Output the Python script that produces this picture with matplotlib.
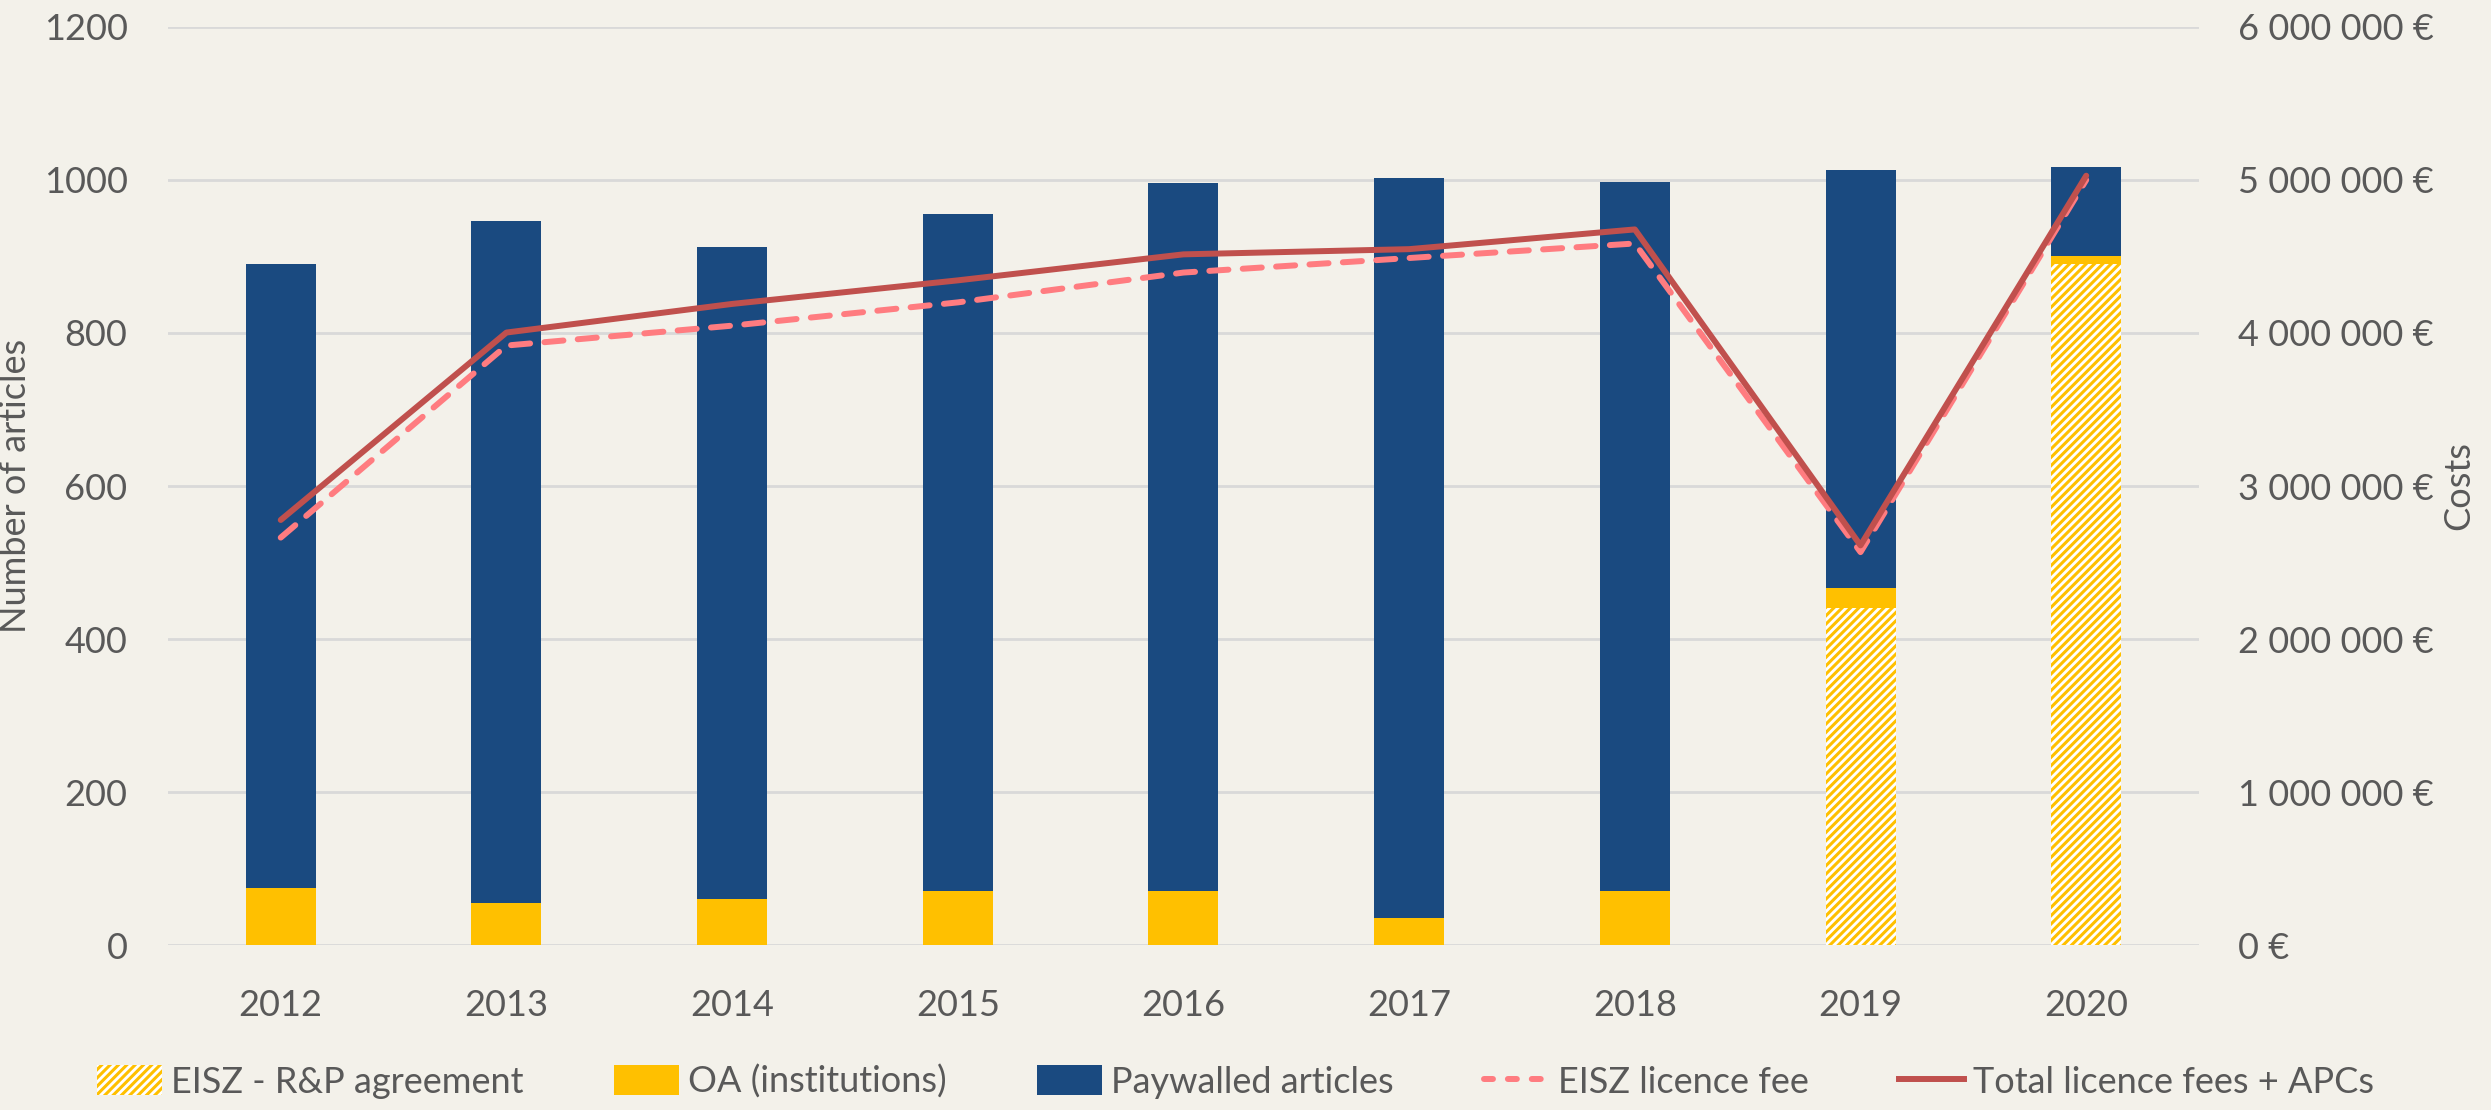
#!/usr/bin/env python
# coding: utf-8

# Script to plot article counts (bars) and licence costs (lines) per year

import matplotlib
matplotlib.use('Agg')

import matplotlib.pyplot as plt
import matplotlib.ticker as mticker
from matplotlib.patches import Patch
from matplotlib.lines import Line2D
import numpy as np

# --- data ---
years      = ['2012', '2013', '2014', '2015', '2016', '2017', '2018', '2019', '2020']
eisz_rp    = [0, 0, 0, 0, 0, 0, 0, 440, 890]          # EISZ - R&P agreement (articles)
oa_inst    = [75, 55, 60, 70, 70, 36, 70, 27, 11]      # OA (institutions)
paywalled  = [815, 892, 852, 886, 926, 967, 928, 546, 116]
licence_fee = [2663000, 3918000, 4048000, 4200000, 4395000, 4490000, 4585000, 2568000, 5000000]
total_cost  = [2778000, 4003000, 4190000, 4344000, 4514000, 4548000, 4677000, 2612000, 5028000]

# --- style ---
bg      = '#F3F1EA'
c_blue  = '#1A4A80'
c_yel   = '#FFC000'
c_tot   = '#C0504D'
c_fee   = '#FF7C80'
c_grid  = '#D9D9D9'
c_txt   = '#595959'
fsz     = 26
lwd     = 4.3
plt.rcParams['font.family'] = ['Lato', 'DejaVu Sans']
plt.rcParams['hatch.linewidth'] = 2.2

x = np.arange(len(years))
bw = 0.31

fig = plt.figure(figsize=(24.91, 11.10), dpi=100, facecolor=bg)
ax1 = fig.add_axes([0.0674, 0.1486, 0.8154, 0.8271])
ax1.set_facecolor(bg)
ax2 = ax1.twinx()

# --- stacked bars ---
base = np.zeros(len(years))
ax1.bar(x, eisz_rp, bw, bottom=base, color='white', edgecolor=c_yel, hatch='////', linewidth=0, zorder=2)
base = base + np.array(eisz_rp)
ax1.bar(x, oa_inst, bw, bottom=base, color=c_yel, linewidth=0, zorder=2)
base = base + np.array(oa_inst)
ax1.bar(x, paywalled, bw, bottom=base, color=c_blue, linewidth=0, zorder=2)

# --- cost lines on secondary axis ---
ax2.plot(x, licence_fee, color=c_fee, linewidth=lwd, linestyle=(0, (3.2, 2.4)), dash_capstyle='round', zorder=3)
ax2.plot(x, total_cost, color=c_tot, linewidth=lwd, solid_capstyle='round', zorder=4)

# --- axes details ---
ax1.set_xlim(-0.5, len(years) - 0.5)
ax1.set_ylim(0, 1200)
ax1.set_yticks(np.arange(0, 1201, 200))
ax1.set_xticks(x)
ax1.set_xticklabels(years)
ax1.yaxis.grid(True, color=c_grid, linewidth=2, zorder=0)
ax1.set_axisbelow(True)
ax1.tick_params(axis='both', length=0, labelsize=fsz, colors=c_txt)
ax1.tick_params(axis='y', pad=29)
ax1.tick_params(axis='x', pad=32)
ax1.set_ylabel('Number of articles', fontsize=fsz, color=c_txt)
ax1.yaxis.set_label_coords(-0.067, 0.5)

ax2.set_ylim(0, 6000000)
ax2.set_yticks(np.arange(0, 6000001, 1000000))
ax2.yaxis.set_major_formatter(mticker.FuncFormatter(lambda v, p: '{:,.0f} €'.format(v).replace(',', ' ')))
ax2.tick_params(axis='y', length=0, labelsize=fsz, colors=c_txt, pad=28)
ax2.set_ylabel('Costs', fontsize=fsz, color=c_txt, labelpad=6)

for ax in (ax1, ax2):
    for s in ax.spines.values():
        s.set_visible(False)

# --- legend ---
handles = [Patch(facecolor='white', edgecolor=c_yel, hatch='////', linewidth=0),
           Patch(facecolor=c_yel),
           Patch(facecolor=c_blue),
           Line2D([0], [0], color=c_fee, linewidth=lwd, linestyle=(0, (1.5, 2.5)), dash_capstyle='round'),
           Line2D([0], [0], color=c_tot, linewidth=lwd)]
labels = ['EISZ - R&P agreement', 'OA (institutions)', 'Paywalled articles',
          'EISZ licence fee', 'Total licence fees + APCs']
leg = fig.legend(handles, labels, loc='lower center', bbox_to_anchor=(0.496, -0.019), ncol=5,
                 frameon=False, fontsize=fsz, handlelength=1.8, handleheight=0.9,
                 handletextpad=0.25, columnspacing=2.5)
for t in leg.get_texts():
    t.set_color(c_txt)

plt.savefig('out.png', dpi=100, facecolor=bg)
print('Created figure out.png')
